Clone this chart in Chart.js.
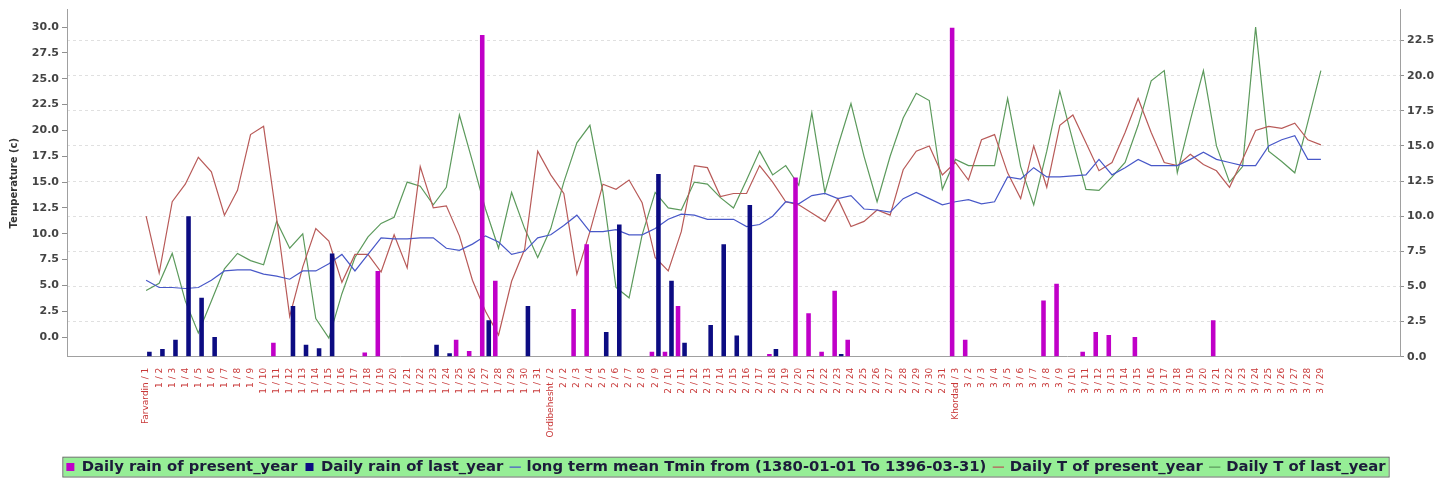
<!DOCTYPE html>
<html>
<head>
<meta charset="utf-8">
<script src="https://cdn.jsdelivr.net/npm/chart.js@4.4.1/dist/chart.umd.min.js"></script>
<style>
  html, body { margin: 0; padding: 0; background: #fff; }
  #wrap { width: 1452px; height: 487px; }
</style>
</head>
<body>
<div id="wrap"><canvas id="chart" width="1452" height="487"></canvas></div>
<script>
// Meses e dias (índice 0 = Farvardin 1, índice 90 = Khordad 29)
const monthNames = ['Farvardin', 'Ordibehesht', 'Khordad'];
const monthDays = [31, 31, 29];

// Chuva diária (mm) - eixo da direita
const rainPresent = [
    0, 0, 0, 0, 0, 0, 0, 0, 0, 0,
    1.0, 0, 0, 0, 0, 0, 0, 0.3, 6.1, 0,
    0, 0, 0, 0, 1.2, 0.4, 22.9, 5.4, 0, 0,
    0, 0, 0, 3.4, 8.0, 0, 0, 0, 0, 0.35,
    0.35, 3.6, 0, 0, 0, 0, 0, 0, 0.2, 0,
    12.75, 3.1, 0.35, 4.7, 1.2, 0, 0, 0, 0, 0,
    0, 0, 23.4, 1.2, 0, 0, 0, 0, 0, 4.0,
    5.2, 0, 0.35, 1.75, 1.55, 0, 1.4, 0, 0, 0,
    0, 0, 2.6, 0, 0, 0, 0, 0, 0, 0,
    0
];
const rainLast = [
    0.35, 0.55, 1.2, 10.0, 4.2, 1.4, 0, 0, 0, 0,
    0, 3.6, 0.85, 0.6, 7.35, 0, 0, 0, 0, 0,
    0, 0, 0.85, 0.25, 0, 0, 2.6, 0, 0, 3.6,
    0, 0, 0, 0, 0, 1.75, 9.4, 0, 0, 13.0,
    5.4, 1.0, 0, 2.25, 8.0, 1.5, 10.8, 0, 0.55, 0,
    0, 0, 0, 0.2, 0, 0, 0, 0, 0, 0,
    0, 0, 0, 0, 0, 0, 0, 0, 0, 0,
    0, 0, 0, 0, 0, 0, 0, 0, 0, 0,
    0, 0, 0, 0, 0, 0, 0, 0, 0, 0,
    0
];

// Temperaturas (°C) - eixo da esquerda
const tMean = [
    5.5, 4.8, 4.8, 4.7, 4.8, 5.5, 6.4, 6.5, 6.5, 6.1,
    5.9, 5.6, 6.4, 6.4, 7.1, 8.0, 6.4, 8.0, 9.6, 9.5,
    9.5, 9.6, 9.6, 8.6, 8.4, 9.0, 9.8, 9.2, 8.0, 8.3,
    9.6, 9.9, 10.8, 11.8, 10.2, 10.2, 10.4, 9.9, 9.9, 10.5,
    11.4, 11.9, 11.8, 11.4, 11.4, 11.4, 10.7, 10.9, 11.7, 13.1,
    12.9, 13.7, 13.9, 13.4, 13.7, 12.4, 12.3, 12.1, 13.4, 14.0,
    13.4, 12.8, 13.1, 13.3, 12.9, 13.1, 15.5, 15.3, 16.4, 15.5,
    15.5, 15.6, 15.7, 17.2, 15.7, 16.4, 17.2, 16.6, 16.6, 16.6,
    17.2, 17.9, 17.2, 16.9, 16.6, 16.6, 18.5, 19.1, 19.5, 17.2,
    17.2
];
const tPresent = [
    11.7, 6.2, 13.1, 14.8, 17.4, 16.0, 11.8, 14.2, 19.6, 20.4,
    11.5, 2.0, 6.8, 10.5, 9.3, 5.3, 8.0, 8.0, 6.3, 9.9,
    6.7, 16.5, 12.5, 12.7, 9.8, 5.5, 2.5, 0.2, 5.4, 8.5,
    18.0, 15.7, 13.9, 6.1, 10.2, 14.8, 14.3, 15.2, 13.0, 7.7,
    6.4, 10.2, 16.6, 16.4, 13.6, 13.9, 13.9, 16.6, 15.0, 13.1,
    12.8, 12.0, 11.2, 13.4, 10.7, 11.2, 12.3, 11.8, 16.2, 18.0,
    18.5, 15.7, 16.9, 15.2, 19.1, 19.6, 15.9, 13.4, 18.5, 14.5,
    20.5, 21.5, 18.8, 16.1, 16.9, 19.8, 23.1, 19.8, 16.9, 16.6,
    17.7, 16.7, 16.1, 14.5, 17.2, 20.0, 20.4, 20.2, 20.7, 19.1,
    18.6
];
const tLast = [
    4.5, 5.2, 8.1, 3.5, 0.4, 3.5, 6.6, 8.1, 7.4, 7.0,
    11.2, 8.6, 10.0, 1.8, -0.1, 4.2, 7.7, 9.7, 11.0, 11.6,
    15.0, 14.6, 12.8, 14.5, 21.5, 17.0, 12.4, 8.6, 14.0, 10.5,
    7.7, 10.5, 15.0, 18.8, 20.5, 14.0, 4.8, 3.8, 9.9, 14.0,
    12.5, 12.3, 15.0, 14.8, 13.5, 12.5, 15.2, 18.0, 15.7, 16.6,
    14.7, 21.7, 14.0, 18.5, 22.6, 17.5, 13.1, 17.5, 21.2, 23.6,
    22.9, 14.3, 17.2, 16.6, 16.6, 16.6, 23.1, 16.5, 12.8, 18.0,
    23.8, 19.0, 14.3, 14.2, 15.5, 16.9, 20.5, 24.8, 25.8, 15.9,
    21.0, 25.8, 18.5, 15.0, 16.5, 30.0, 18.0, 17.0, 15.9, 20.8,
    25.8
];

// Rótulos dos eixos Y
const tempTicks = [0, 2.5, 5, 7.5, 10, 12.5, 15, 17.5, 20, 22.5, 25, 27.5, 30];
const rainTicks = [0, 2.5, 5, 7.5, 10, 12.5, 15, 17.5, 20, 22.5];

// Monta os rótulos dos dias (primeiro dia de cada mês leva o nome do mês)
const dayLabels = [];
monthDays.forEach((n, m) => {
    for (let d = 1; d <= n; d++) {
        dayLabels.push(d === 1 ? `${monthNames[m]} / ${m + 1}` : `${m + 1} / ${d}`);
    }
});

const toPoints = arr => arr.map((v, i) => ({ x: i, y: v }));

// Fundo verde da legenda
const legendBg = {
    id: 'legendBg',
    beforeDraw(chart) {
        const boxes = chart.legend && chart.legend.legendHitBoxes;
        if (!boxes || !boxes.length) return;
        let l = Infinity, r = -Infinity, t = Infinity, b = -Infinity;
        boxes.forEach(h => {
            l = Math.min(l, h.left); r = Math.max(r, h.left + h.width);
            t = Math.min(t, h.top); b = Math.max(b, h.top + h.height);
        });
        const ctx = chart.ctx;
        ctx.save();
        ctx.fillStyle = 'rgb(150, 238, 150)';
        ctx.strokeStyle = '#5f6f5f';
        ctx.lineWidth = 1;
        ctx.fillRect(l - 3, t - 2, r - l + 6, b - t + 4);
        ctx.strokeRect(l - 3.5, t - 2.5, r - l + 7, b - t + 5);
        ctx.restore();
    }
};

const axisFont = { family: 'DejaVu Sans', size: 11, weight: 'bold' };

new Chart(document.getElementById('chart'), {
    type: 'bar',
    data: {
        datasets: [
            {
                label: 'Daily rain of present_year',
                data: toPoints(rainPresent),
                backgroundColor: '#c000c8',
                yAxisID: 'yR',
                categoryPercentage: 1.0,
                barPercentage: 0.7,
                pointStyle: 'rect'
            },
            {
                label: 'Daily rain of last_year',
                data: toPoints(rainLast),
                backgroundColor: '#0c0c82',
                yAxisID: 'yR',
                categoryPercentage: 1.0,
                barPercentage: 0.7,
                pointStyle: 'rect'
            },
            {
                type: 'line',
                label: 'long term mean Tmin from (1380-01-01 To 1396-03-31)',
                data: toPoints(tMean),
                borderColor: '#4858c8',
                backgroundColor: '#4858c8',
                borderWidth: 1.2,
                pointRadius: 0,
                pointStyle: 'line',
                tension: 0,
                yAxisID: 'yT'
            },
            {
                type: 'line',
                label: 'Daily T of present_year',
                data: toPoints(tPresent),
                borderColor: '#b85a58',
                backgroundColor: '#b85a58',
                borderWidth: 1.2,
                pointRadius: 0,
                pointStyle: 'line',
                tension: 0,
                yAxisID: 'yT'
            },
            {
                type: 'line',
                label: 'Daily T of last_year',
                data: toPoints(tLast),
                borderColor: '#5c9a5c',
                backgroundColor: '#5c9a5c',
                borderWidth: 1.2,
                pointRadius: 0,
                pointStyle: 'line',
                tension: 0,
                yAxisID: 'yT'
            }
        ]
    },
    options: {
        responsive: false,
        animation: false,
        devicePixelRatio: 1,
        layout: { padding: { top: 5, bottom: 2.5, left: 0, right: 0 } },
        scales: {
            x: {
                type: 'linear',
                bounds: 'data',
                min: -5.5,
                max: 95.5,
                afterBuildTicks: axis => { axis.ticks = dayLabels.map((_, i) => ({ value: i })); },
                afterFit: axis => { axis.height = 95; },
                grid: { display: false },
                border: { display: true, color: '#a0a0a0' },
                ticks: {
                    autoSkip: false,
                    maxRotation: 90,
                    minRotation: 90,
                    padding: 3,
                    color: '#c83838',
                    font: { family: 'DejaVu Sans', size: 9 },
                    callback: v => dayLabels[v]
                }
            },
            yT: {
                position: 'left',
                bounds: 'data',
                min: -1.9,
                max: 31.7,
                afterBuildTicks: axis => { axis.ticks = tempTicks.map(v => ({ value: v })); },
                afterFit: axis => { axis.width = 67; },
                grid: { drawOnChartArea: false, tickLength: 5, tickColor: '#909090' },
                border: { color: '#a0a0a0' },
                title: {
                    display: true,
                    text: 'Temperature (c)',
                    color: '#333',
                    font: { family: 'DejaVu Sans', size: 10, weight: 'bold' },
                    padding: { top: 8, bottom: 0 }
                },
                ticks: {
                    color: '#444',
                    font: axisFont,
                    padding: 3,
                    callback: v => v.toFixed(1)
                }
            },
            yR: {
                position: 'right',
                bounds: 'data',
                min: 0,
                max: 24.7,
                afterBuildTicks: axis => { axis.ticks = rainTicks.map(v => ({ value: v })); },
                afterFit: axis => { axis.width = 52; },
                grid: { color: '#e0e0e0', tickLength: 4, tickColor: '#909090' },
                border: { color: '#a0a0a0', dash: [3, 3] },
                ticks: {
                    color: '#444',
                    font: axisFont,
                    padding: 3,
                    callback: v => v.toFixed(1)
                }
            }
        },
        plugins: {
            legend: {
                position: 'bottom',
                labels: {
                    usePointStyle: true,
                    boxWidth: 8,
                    boxHeight: 8,
                    padding: 8,
                    color: '#1c1c3a',
                    font: { family: 'DejaVu Sans', size: 14.8, weight: 'bold' }
                }
            },
            tooltip: { enabled: false }
        }
    },
    plugins: [legendBg]
});
</script>
</body>
</html>
